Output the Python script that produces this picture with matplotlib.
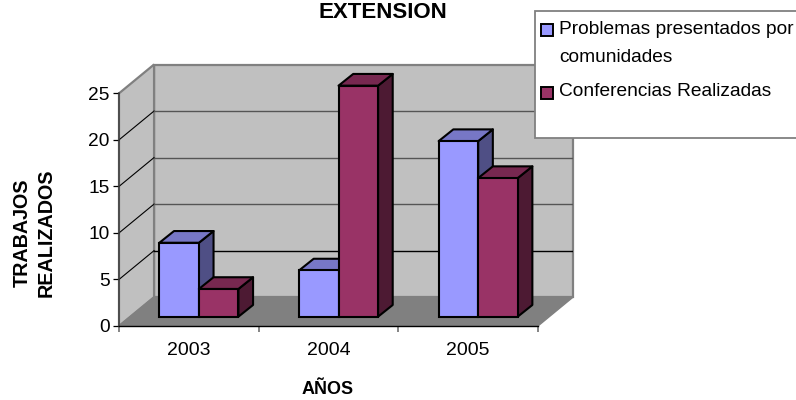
import numpy as np
import matplotlib
matplotlib.use("Agg")
import matplotlib.pyplot as plt
from matplotlib.patches import Polygon, Rectangle

plt.rcParams['font.family'] = ['Liberation Sans', 'DejaVu Sans']

years = ["2003", "2004", "2005"]
problemas = [8, 5, 19]
conferencias = [3, 25, 15]
yticks = [0, 5, 10, 15, 20, 25]

W, H = 796, 400
# Wall depth and bar depth, in data units
WALL_DX, WALL_DY = 0.251, 3.1
SHIFT_X, SHIFT_Y = 0.072, 1.0
BAR_W = 0.283
BAR_DX, BAR_DY = 0.105, 1.26
BAR_LW = 1.5

fig = plt.figure(figsize=(W / 100, H / 100), dpi=100, facecolor="white")
left, right, top, bottom = 119, 573, 64.5, 326
ax = fig.add_axes([left / W, 1 - bottom / H, (right - left) / W, (bottom - top) / H])
ax.set_xlim(-0.5, 2.5 + WALL_DX)
ax.set_ylim(0, 25 + WALL_DY)
ax.patch.set_visible(False)

x0, x1 = -0.5, 2.5
ymax = yticks[-1]
edge = "#808080"

# Back wall, side wall, floor
ax.add_patch(Polygon([(x0 + WALL_DX, WALL_DY), (x1 + WALL_DX, WALL_DY), (x1 + WALL_DX, ymax + WALL_DY),
                      (x0 + WALL_DX, ymax + WALL_DY)], fc="#c0c0c0", ec=edge, lw=1.6, zorder=1, clip_on=False))
ax.add_patch(Polygon([(x0, 0), (x0 + WALL_DX, WALL_DY), (x0 + WALL_DX, ymax + WALL_DY), (x0, ymax)],
                     fc="#c0c0c0", ec=edge, lw=1.6, zorder=1, clip_on=False))
ax.add_patch(Polygon([(x0, 0), (x1, 0), (x1 + WALL_DX, WALL_DY), (x0 + WALL_DX, WALL_DY)],
                     fc="#808080", ec=edge, lw=1, zorder=1.5, clip_on=False))

# Gridlines across both walls
grid_colors = {5: "#000000", 10: "#555555", 15: "#555555", 20: "#555555"}
for v in yticks[1:-1]:
    ax.plot([x0, x0 + WALL_DX], [v, v + WALL_DY], color="black", lw=0.8, zorder=2)
    ax.plot([x0 + WALL_DX, x1 + WALL_DX], [v + WALL_DY, v + WALL_DY], color=grid_colors[v], lw=1.0, zorder=2)


def draw_bar(xl, value, front, topc, side, z):
    xa = xl + SHIFT_X
    xb = xa + BAR_W
    ya = SHIFT_Y
    yb = SHIFT_Y + value * 0.993
    ec = "black"
    ax.add_patch(Polygon([(xb, ya), (xb + BAR_DX, ya + BAR_DY), (xb + BAR_DX, yb + BAR_DY), (xb, yb)],
                         fc=side, ec=ec, lw=BAR_LW, zorder=z, joinstyle="round"))
    ax.add_patch(Polygon([(xa, yb), (xb, yb), (xb + BAR_DX, yb + BAR_DY), (xa + BAR_DX, yb + BAR_DY)],
                         fc=topc, ec=ec, lw=BAR_LW, zorder=z, joinstyle="round"))
    ax.bar(xa, yb - ya, BAR_W, bottom=ya, align="edge", color=front, edgecolor=ec, lw=BAR_LW, zorder=z + 0.1)


for i in range(len(years)):
    draw_bar(i - BAR_W, problemas[i], "#9999ff", "#7777c6", "#4f4f85", 3 + i)
    draw_bar(i, conferencias[i], "#993366", "#772850", "#4d1a33", 3.5 + i)

# Axes
for s in ["top", "right"]:
    ax.spines[s].set_visible(False)
ax.spines["left"].set_bounds(0, ymax)
ax.spines["bottom"].set_bounds(x0, x1)
ax.spines["left"].set_zorder(2.5)
ax.spines["bottom"].set_zorder(2.5)
ax.spines["left"].set_color("#404040")
ax.spines["left"].set_linewidth(1.1)
ax.spines["bottom"].set_linewidth(1.0)
ax.set_yticks(yticks)
ax.set_xticks([-0.5, 0.5, 1.5, 2.5])
ax.set_xticklabels([])
ax.set_xticks([0, 1, 2], years, minor=True)
ax.tick_params(axis="x", which="major", length=4, width=1.2, color="#707070")
ax.tick_params(axis="x", which="minor", length=0, labelsize=14, pad=11.2)
ax.tick_params(axis="y", length=4.3, width=0.9, labelsize=13.8, pad=2.5)

# Titles
fig.text(383 / W, 1 - 12.5 / H, "EXTENSION", ha="center", va="center", fontsize=16, fontweight="bold")
fig.text(328 / W, 1 - 390 / H, "AÑOS", ha="center", va="center", fontsize=13, fontweight="bold")
fig.text(34 / W, 1 - 233 / H, "TRABAJOS\nREALIZADOS", ha="center", va="center", rotation=90,
         fontsize=14.2, fontweight="bold", linespacing=1.35)

# Legend
fig.add_artist(Rectangle((534.5 / W, 1 - 137.5 / H), 270 / W, 126.5 / H, transform=fig.transFigure,
                         fc="white", ec="#808080", lw=1.3, zorder=10))
fig.add_artist(Rectangle((541 / W, 1 - 36 / H), 11.5 / W, 11.5 / H, transform=fig.transFigure,
                         fc="#9999ff", ec="black", lw=1.4, zorder=11))
fig.add_artist(Rectangle((541 / W, 1 - 99 / H), 11.5 / W, 11.5 / H, transform=fig.transFigure,
                         fc="#993366", ec="black", lw=1.4, zorder=11))
fig.text(559 / W, 1 - 29 / H, "Problemas presentados por", va="center", fontsize=13.8, zorder=12)
fig.text(559 / W, 1 - 57 / H, "comunidades", va="center", fontsize=13.8, zorder=12)
fig.text(559 / W, 1 - 92 / H, "Conferencias Realizadas", va="center", fontsize=13.8, zorder=12)

fig.savefig("out.png", dpi=100)
